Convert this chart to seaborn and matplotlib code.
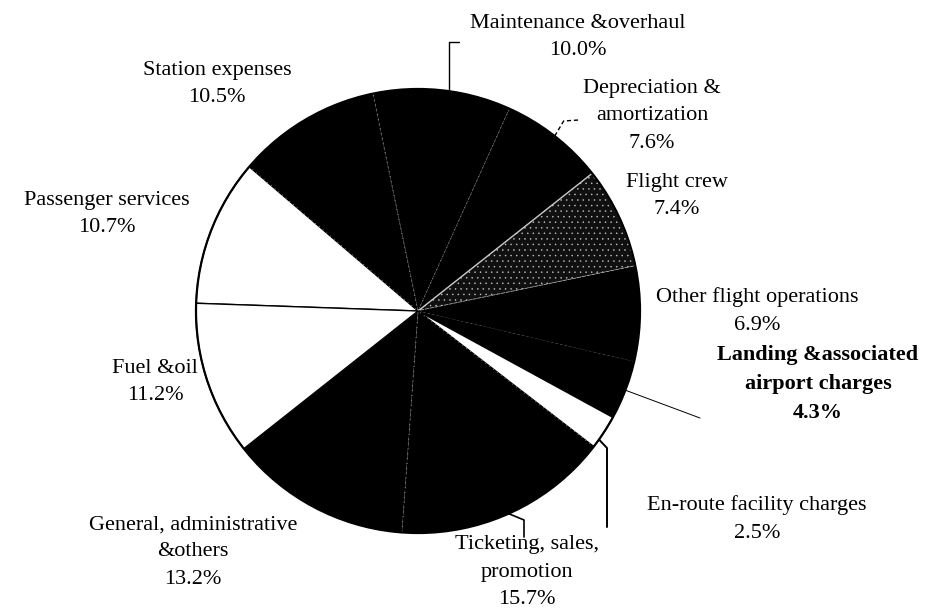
import matplotlib
matplotlib.use("Agg")
import matplotlib.pyplot as plt
import numpy as np
import seaborn as sns
from matplotlib.patches import Circle

# ---- data ----
categories = [
    "Passenger services", "Station expenses", "Maintenance & overhaul",
    "Depreciation & amortization", "Flight crew", "Other flight operations",
    "Landing & associated airport charges", "En-route facility charges",
    "Ticketing, sales, promotion", "General, administrative & others",
    "Fuel & oil",
]
shares = [10.7, 10.5, 10.0, 7.6, 7.4, 6.9, 4.3, 2.5, 15.7, 13.2, 11.2]
label_texts = [
    "Passenger services\n10.7%", "Station expenses\n10.5%",
    "Maintenance &overhaul\n10.0%", "Depreciation &\namortization\n7.6%",
    "Flight crew\n7.4%", "Other flight operations\n6.9%",
    "Landing &associated\nairport charges\n4.3%",
    "En-route facility charges\n2.5%",
    "Ticketing, sales,\npromotion\n15.7%",
    "General, administrative\n&others\n13.2%", "Fuel &oil\n11.2%",
]
fill_kind = ["white", "black", "black", "black", "speckle", "black",
             "black", "white", "black", "black", "white"]

# ---- layout (pixels) ----
W, H = 941, 616
CX, CY, R = 418, 311, 222
label_pos = [(107, 214), (217, 84), (578, 37), (652, 116), (677, 196),
             (757, 311), (818, 384), (757, 519), (527, 572), (193, 552),
             (155, 382)]

sns.set_theme(style="white")
plt.rcParams["font.family"] = ["Liberation Serif", "DejaVu Serif"]
plt.rcParams["hatch.linewidth"] = 0.3

fig = plt.figure(figsize=(W / 100, H / 100), dpi=100)
ax = fig.add_axes([0, 0, 1, 1])

wedges, _ = ax.pie(shares, startangle=178, counterclock=False,
                   radius=R, center=(CX, -CY))
for i, (w, kind) in enumerate(zip(wedges, fill_kind)):
    if kind == "white":
        w.set_facecolor("white")
        w.set_edgecolor("black")
        w.set_linewidth(1.0)
    elif kind == "black":
        w.set_facecolor("black")
        w.set_edgecolor("#8a8a8a" if i not in (5, 6) else "black")
        w.set_linestyle((0, (1, 4)))
        w.set_linewidth(0.7)
    else:
        w.set_facecolor("#101010")
        w.set_edgecolor("#c8c8c8")
        w.set_hatch("...")
        w.set_linewidth(1.0)
ax.add_patch(Circle((CX, -CY), R, fill=False, edgecolor="black", lw=1.6, zorder=5))

for i, (txt, (x, y)) in enumerate(zip(label_texts, label_pos)):
    ax.text(x, -y, txt, ha="center", va="center", fontsize=16,
            linespacing=1.58, color="black",
            fontweight="bold" if i == 6 else "normal")


def edge_pt(i, frac=0.5):
    w = wedges[i]
    ang = np.deg2rad(w.theta1 + frac * (w.theta2 - w.theta1))
    return CX + R * np.cos(ang), CY - R * np.sin(ang)


lk = dict(color="black", zorder=6)
# Maintenance
x0, y0 = edge_pt(2, 0.45)
ax.plot([x0, x0, x0 + 10], [-y0, -42, -42], lw=1.0, **lk)
# Depreciation
x0, y0 = edge_pt(3, 0.5)
ax.plot([x0, x0 + 9, x0 + 24], [-y0, -121, -120], lw=1.0, ls=(0, (3, 2)), **lk)
# Landing
x0, y0 = edge_pt(6, 0.5)
ax.plot([x0, 700], [-y0, -418], lw=0.7, **lk)
# En-route
x0, y0 = edge_pt(7, 0.25)
ax.plot([x0, 607, 607], [-y0, -448, -527], lw=1.4, **lk)
# Ticketing
x0, y0 = edge_pt(8, 0.5)
ax.plot([x0, 524, 524], [-y0, -520, -537], lw=1.2, **lk)

ax.set_xlim(0, W)
ax.set_ylim(-H, 0)
ax.set_aspect("equal")
ax.axis("off")
fig.savefig("out.png", dpi=100, facecolor="white")
